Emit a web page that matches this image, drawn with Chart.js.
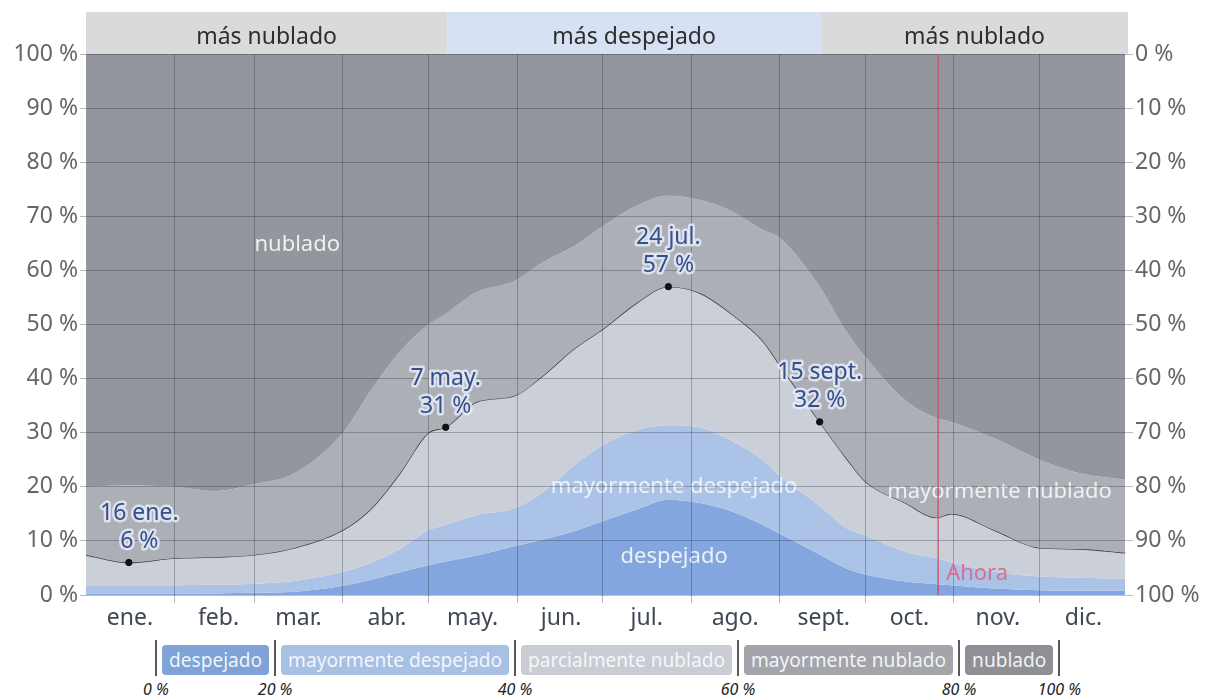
<!DOCTYPE html>
<html>
<head>
<meta charset="utf-8">
<title>Nubosidad</title>
<script src="https://cdn.jsdelivr.net/npm/chart.js@4.4.1/dist/chart.umd.min.js"></script>
<style>
  body { margin: 0; background: #fff; font-family: "Noto Sans", sans-serif; }
  #wrap { position: relative; width: 1213px; height: 700px; overflow: hidden; }
  #chart-box { position: absolute; left: 0; top: 0; width: 1213px; height: 640px; }
  #legend { position: absolute; left: 155px; top: 640px; display: flex; align-items: flex-start; }
  #legend .sep { position: relative; width: 2px; height: 36px; background: #5a5a5a; }
  #legend .sep span { position: absolute; top: 38px; left: 1px; transform: translateX(-50%);
    font-size: 16px; font-style: italic; color: #222; white-space: nowrap; }
  #legend .box { margin: 5px 5px 0 5px; height: 30px; line-height: 30px; padding: 0 7px;
    border-radius: 4px; font-size: 19.1px; white-space: nowrap; }
</style>
</head>
<body>
<div id="wrap">
  <div id="chart-box"><canvas id="my-chart"></canvas></div>
  <div id="legend"></div>
</div>
<script>
// day of year (0 = 1 ene.) where the bands were read
const days = [0, 15, 31, 45, 59, 73, 90, 100, 110, 120, 126, 137, 150, 160, 171, 182,
  193, 204, 215, 226, 237, 243, 257, 266, 273, 287, 298, 303, 318, 334, 348, 364];

// cumulative tops of each band (% of time)
const despejadoTop = [0.3, 0.3, 0.3, 0.3, 0.4, 0.6, 1.7, 2.8, 4.2, 5.5, 6.2, 7.3, 9, 10.2, 11.8, 13.8,
  15.8, 17.6, 17, 15.5, 13, 11.3, 7.5, 5, 3.8, 2.5, 2, 1.8, 1.2, 0.9, 0.8, 0.8];
const mayDespejadoTop = [1.8, 1.8, 1.8, 1.9, 2.1, 2.6, 4.3, 6, 8.5, 12, 13, 14.8, 16, 19, 24, 28,
  30.5, 31.4, 31, 28.5, 25, 22, 16.5, 12.5, 11, 8, 6.8, 6, 4.3, 3.4, 3.2, 3];
const parcialTop = [7.4, 6, 6.8, 7, 7.4, 8.7, 12, 16, 22.5, 30, 31, 35.7, 36.8, 40.5, 45.5, 49.5,
  54, 57, 55.8, 52, 47, 42.5, 32, 25.5, 21, 17, 14.3, 15, 12, 8.7, 8.5, 7.8];
const mayNubladoTop = [20, 20.3, 20, 19.2, 20.5, 22.5, 30, 38, 45, 50, 52, 56, 58, 61.5, 64.5, 68.5,
  72, 73.8, 73, 71, 67.5, 66, 57, 49, 44, 36, 32.7, 32, 29, 25, 22.5, 21.3];
const nubladoTop = days.map(() => 100);

const monthStarts = [0, 31, 59, 90, 120, 151, 181, 212, 243, 273, 304, 334];
const monthNames = ['ene.', 'feb.', 'mar.', 'abr.', 'may.', 'jun.', 'jul.', 'ago.', 'sept.', 'oct.', 'nov.', 'dic.'];

const bandNames = ['despejado', 'mayormente despejado', 'parcialmente nublado', 'mayormente nublado', 'nublado'];
const bandColors = ['#82a6dd', '#abc3e7', '#cbcfd7', '#acafb5', '#93969c'];
const legendColors = ['#7fa2d7', '#a8c0e4', '#c9ccd3', '#a3a5aa', '#8e9095'];
const legendTicks = ['0 %', '20 %', '40 %', '60 %', '80 %', '100 %'];

// header strip: "más nublado / más despejado / más nublado"
const headerStart = [0, 126.5, 257.5];
const headerEnd = [126.5, 257.5, 365];
const headerText = ['más nublado', 'más despejado', 'más nublado'];
const headerColors = ['#d9dadc', '#d6e2f4', '#d9dadc'];

// labelled points on the dark line
const markDays = [15, 126, 204, 257];
const markValues = [6, 31, 57, 32];
const markDates = ['16 ene.', '7 may.', '24 jul.', '15 sept.'];

// labels written inside the areas
const areaLabels = ['nublado', 'mayormente despejado', 'despejado', 'mayormente nublado'];
const areaLabelDays = [74, 206, 206, 320];
const areaLabelValues = [64.7, 20, 7, 19];

const nowDay = 298.5;

const FONT = '"Noto Sans", sans-serif';

function pts(arr) {
  return days.map((d, i) => ({ x: d, y: arr[i] }));
}

const tops = [despejadoTop, mayDespejadoTop, parcialTop, mayNubladoTop, nubladoTop];
const datasets = tops.map((arr, i) => ({
  type: 'line',
  label: bandNames[i],
  data: pts(arr),
  backgroundColor: bandColors[i],
  borderColor: i === 2 ? '#3a3a3a' : 'rgba(0,0,0,0)',
  borderWidth: i === 2 ? 1.3 : 0,
  fill: i === 0 ? 'origin' : '-1',
  pointRadius: 0,
  cubicInterpolationMode: 'monotone',
  order: 10 - i
}));
datasets.push({
  type: 'scatter',
  label: 'marcas',
  data: markDays.map((d, i) => ({ x: d, y: markValues[i] })),
  backgroundColor: '#111',
  borderColor: '#111',
  pointRadius: 3.2,
  order: 0
});

const headerPlugin = {
  id: 'header',
  beforeDraw(chart) {
    const { ctx, chartArea, scales } = chart;
    ctx.save();
    headerText.forEach((t, i) => {
      const x0 = scales.x.getPixelForValue(headerStart[i]);
      const x1 = scales.x.getPixelForValue(headerEnd[i]);
      ctx.fillStyle = headerColors[i];
      ctx.fillRect(x0, chartArea.top - 42, x1 - x0, 42);
      ctx.fillStyle = '#2e2e2e';
      ctx.font = '23px ' + FONT;
      ctx.textAlign = 'center';
      ctx.textBaseline = 'middle';
      ctx.fillText(t, (x0 + x1) / 2, chartArea.top - 17);
    });
    ctx.restore();
  }
};

const areaTextPlugin = {
  id: 'areaText',
  afterDatasetsDraw(chart) {
    const { ctx, scales } = chart;
    ctx.save();
    ctx.font = '22px ' + FONT;
    ctx.textAlign = 'center';
    ctx.textBaseline = 'middle';
    ctx.fillStyle = 'rgba(245,246,248,0.92)';
    areaLabels.forEach((t, i) => {
      ctx.fillText(t, scales.x.getPixelForValue(areaLabelDays[i]), scales.y.getPixelForValue(areaLabelValues[i]));
    });
    ctx.restore();
  }
};

const marksPlugin = {
  id: 'marks',
  afterDraw(chart) {
    const { ctx, chartArea, scales } = chart;
    ctx.save();
    // "Ahora" line
    const xn = scales.x.getPixelForValue(nowDay);
    ctx.strokeStyle = 'rgba(205,70,95,0.8)';
    ctx.lineWidth = 1.5;
    ctx.beginPath();
    ctx.moveTo(xn, chartArea.top);
    ctx.lineTo(xn, chartArea.bottom);
    ctx.stroke();
    ctx.font = '22px ' + FONT;
    ctx.fillStyle = '#d6708f';
    ctx.textAlign = 'left';
    ctx.textBaseline = 'middle';
    ctx.fillText('Ahora', xn + 8, scales.y.getPixelForValue(3.9));

    // date / value labels
    ctx.font = '23px ' + FONT;
    ctx.textAlign = 'center';
    ctx.lineJoin = 'round';
    markDays.forEach((d, i) => {
      const px = scales.x.getPixelForValue(d);
      const py = scales.y.getPixelForValue(markValues[i]);
      const l1 = markDates[i];
      const l2 = markValues[i] + ' %';
      const half = Math.max(ctx.measureText(l1).width, ctx.measureText(l2).width) / 2;
      const cx = Math.max(px, chartArea.left + half + 14);
      [[l1, py - 49], [l2, py - 21]].forEach(([t, y]) => {
        ctx.strokeStyle = 'rgba(232,238,250,0.8)';
        ctx.lineWidth = 5;
        ctx.strokeText(t, cx, y);
        ctx.fillStyle = '#34508a';
        ctx.fillText(t, cx, y);
      });
    });
    ctx.restore();
  }
};

const gridColor = 'rgba(20,25,35,0.28)';

const chart = new Chart(document.getElementById('my-chart').getContext('2d'), {
  data: { datasets },
  options: {
    responsive: true,
    maintainAspectRatio: false,
    animation: false,
    layout: { padding: { top: 54, left: 0, right: 0, bottom: 0 } },
    plugins: { legend: { display: false }, tooltip: { enabled: false } },
    elements: { line: { tension: 0.4 } },
    scales: {
      x: {
        type: 'linear',
        min: 0,
        max: 365,
        afterBuildTicks: (scale) => { scale.ticks = monthStarts.map(v => ({ value: v })); },
        afterFit: (scale) => { scale.height = 45; },
        border: { display: false },
        grid: {
          z: 1,
          color: (c) => c.index === 0 ? 'rgba(0,0,0,0)' : gridColor,
          tickColor: (c) => c.index === 0 ? 'rgba(0,0,0,0)' : '#b8b8b8',
          tickLength: 8
        },
        ticks: {
          autoSkip: false,
          maxRotation: 0,
          labelOffset: 44,
          padding: 2,
          color: '#3f4756',
          font: { family: FONT, size: 23 },
          callback: (v) => monthNames[monthStarts.indexOf(v)]
        }
      },
      y: {
        min: 0,
        max: 100,
        afterFit: (scale) => { scale.width = 86; },
        border: { display: false },
        grid: { z: 1, color: gridColor, tickColor: '#b8b8b8', tickLength: 6 },
        ticks: {
          stepSize: 10,
          padding: 2,
          color: '#666',
          font: { family: FONT, size: 23 },
          callback: (v) => v + ' %'
        }
      },
      y2: {
        position: 'right',
        reverse: true,
        min: 0,
        max: 100,
        afterFit: (scale) => { scale.width = 85; },
        border: { display: false },
        grid: { z: 1, drawOnChartArea: false, tickColor: '#b8b8b8', tickLength: 5 },
        ticks: {
          stepSize: 10,
          padding: 2,
          color: '#666',
          font: { family: FONT, size: 23 },
          callback: (v) => v + ' %'
        }
      }
    }
  },
  plugins: [headerPlugin, areaTextPlugin, marksPlugin]
});

// legend strip below the chart
const legend = document.getElementById('legend');
function addSep(label) {
  const s = document.createElement('div');
  s.className = 'sep';
  const sp = document.createElement('span');
  sp.textContent = label;
  s.appendChild(sp);
  legend.appendChild(s);
}
bandNames.forEach((name, i) => {
  addSep(legendTicks[i]);
  const b = document.createElement('div');
  b.className = 'box';
  b.textContent = name;
  b.style.background = legendColors[i];
  b.style.color = 'rgba(248,250,253,0.95)';
  legend.appendChild(b);
});
addSep(legendTicks[legendTicks.length - 1]);
</script>
</body>
</html>
